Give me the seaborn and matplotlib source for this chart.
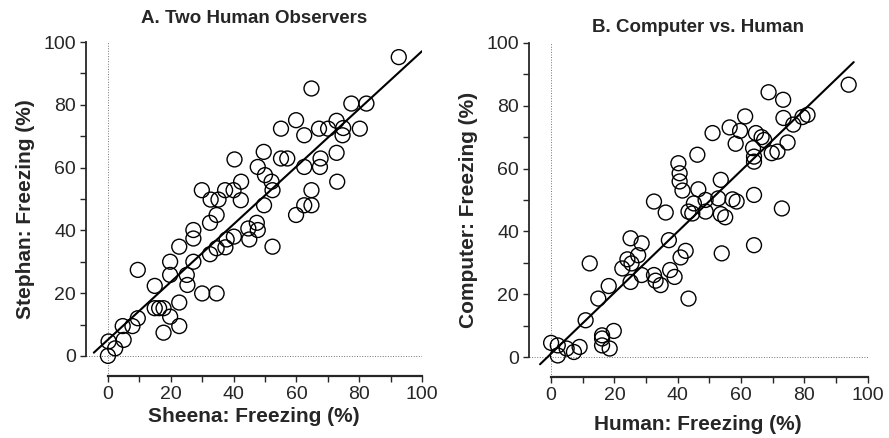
import numpy as np
import pandas as pd
import matplotlib
matplotlib.use('Agg')
import matplotlib.pyplot as plt
from matplotlib.ticker import MultipleLocator
import seaborn as sns

# Панель A: два наблюдателя
sheena = [92.6, 64.8, 77.5, 82.3, 59.9, 55.1, 72.8, 62.5, 67.2, 70.1, 74.9, 80.2, 74.7,
          72.8, 73.0, 55.1, 57.1, 67.7, 67.5, 62.5, 49.6, 47.7, 50.0, 52.1, 52.4, 64.8,
          62.5, 64.8, 59.9, 49.7, 47.4, 47.7, 44.7, 45.0, 52.4, 40.3, 42.4, 40.0, 37.3,
          42.3, 32.7, 35.2, 29.9, 34.6, 32.5, 40.1, 37.8, 37.4, 34.6, 32.5, 27.2, 27.2,
          27.2, 22.7, 19.8, 19.8, 25.1, 25.3, 30.0, 34.6, 22.7, 14.9, 14.9, 17.7, 19.8,
          22.7, 17.7, 9.5, 9.5, 7.8, 4.7, 5.0, 2.3, 0.2, 0.0, 16.3]
stephan = [95.2, 85.2, 80.4, 80.4, 75.1, 72.4, 74.9, 70.3, 72.4, 72.4, 72.6, 72.4, 70.3,
           64.7, 55.5, 62.9, 62.9, 62.9, 60.2, 60.2, 65.0, 60.2, 57.6, 55.5, 52.8, 52.8,
           48.0, 48.0, 44.9, 48.0, 42.4, 40.1, 40.6, 37.1, 34.8, 62.6, 55.5, 52.8, 52.8,
           49.6, 49.8, 49.8, 52.8, 44.9, 42.4, 38.0, 37.1, 34.6, 34.3, 32.4, 40.1, 37.4,
           30.0, 34.8, 30.0, 25.8, 25.8, 22.6, 19.9, 19.9, 17.0, 22.3, 15.2, 15.2, 12.5,
           9.5, 7.4, 27.4, 12.0, 9.5, 9.5, 5.1, 2.4, 4.6, 0.0, 15.2]

# Панель B: компьютер против человека
human = [94.0, 68.7, 73.3, 61.3, 81.0, 79.4, 73.4, 76.5, 56.4, 59.7, 51.0, 64.7, 66.5,
         67.3, 58.3, 74.7, 69.7, 71.5, 63.8, 64.1, 64.1, 46.2, 40.2, 40.6, 40.6, 41.5,
         46.5, 53.6, 52.8, 57.3, 58.6, 64.1, 72.9, 48.8, 45.1, 44.6, 43.4, 48.8, 53.6,
         55.0, 32.5, 36.2, 37.2, 42.5, 40.9, 37.6, 39.0, 32.5, 33.0, 34.6, 53.9, 64.1,
         43.4, 25.1, 28.6, 27.5, 24.1, 25.4, 22.5, 28.6, 25.1, 18.2, 14.9, 12.2, 10.9,
         19.8, 16.1, 16.1, 16.1, 18.5, 9.0, 7.2, 4.9, 2.1, 0.0, 2.1]
computer = [86.7, 84.3, 81.9, 76.6, 77.1, 76.4, 76.1, 74.0, 73.1, 72.0, 71.3, 71.3, 70.0,
            69.1, 67.9, 68.3, 64.9, 65.4, 66.5, 62.2, 63.8, 64.4, 61.7, 58.5, 55.9, 53.0,
            53.4, 56.4, 50.5, 50.2, 49.5, 51.6, 47.3, 50.0, 48.9, 45.7, 46.3, 46.3, 45.5,
            44.5, 49.5, 46.0, 37.2, 33.8, 31.7, 27.7, 25.5, 26.1, 24.3, 22.9, 33.0, 35.6,
            18.6, 37.8, 36.2, 32.4, 31.1, 29.8, 28.2, 26.1, 23.9, 22.6, 18.6, 29.8, 11.7,
            8.3, 6.9, 5.9, 3.7, 2.7, 3.2, 1.6, 2.7, 0.5, 4.5, 3.7]

dfa = pd.DataFrame({'x': sheena, 'y': stephan})
dfb = pd.DataFrame({'x': human, 'y': computer})

sns.set_style('ticks')
plt.rcParams['font.family'] = ['Liberation Sans', 'DejaVu Sans']

fig = plt.figure(figsize=(8.89, 4.38), dpi=100)
ax_a = fig.add_axes([0.0967, 0.1416, 0.378, 0.7624])
ax_b = fig.add_axes([0.595, 0.139, 0.381, 0.763])


def panel(ax, df, title, xlabel, ylabel, line_span, title_pad, xlabel_pad):
    # линия регрессии рисуется на промежутке line_span, потом ставим оси
    ax.set_xlim(*line_span)
    ax.axvline(0, color='0.45', lw=0.7, ls=':', zorder=0)
    ax.axhline(0, color='0.45', lw=0.7, ls=':', zorder=0)
    sns.regplot(data=df, x='x', y='y', ax=ax, ci=None, truncate=False, color='black',
                scatter_kws={'s': 115, 'facecolors': 'none', 'edgecolors': 'black',
                             'linewidths': 1.0, 'clip_on': False, 'alpha': 1},
                line_kws={'lw': 1.5, 'color': 'black'})
    ax.set_xlim(-7, 100)
    ax.set_ylim(-6.4, 100)
    ax.spines['left'].set_bounds(0, 100)
    ax.spines['bottom'].set_bounds(0, 100)
    ax.spines['left'].set_linewidth(1.3)
    ax.spines['bottom'].set_linewidth(1.6)
    sns.despine(ax=ax)
    ax.xaxis.set_major_locator(MultipleLocator(20))
    ax.yaxis.set_major_locator(MultipleLocator(20))
    ax.xaxis.set_minor_locator(MultipleLocator(10))
    ax.yaxis.set_minor_locator(MultipleLocator(10))
    ax.tick_params(which='both', direction='out', length=4, width=1, labelsize=14, pad=3)
    ax.set_title(title, fontsize=13.5, fontweight='bold', pad=title_pad)
    ax.set_xlabel(xlabel, fontsize=15, fontweight='bold', labelpad=xlabel_pad)
    ax.set_ylabel(ylabel, fontsize=15, fontweight='bold', labelpad=6)


panel(ax_a, dfa, 'A. Two Human Observers', 'Sheena: Freezing (%)', 'Stephan: Freezing (%)',
      (-4.5, 100), 14, 3)
panel(ax_b, dfb, 'B. Computer vs. Human', 'Human: Freezing (%)', 'Computer: Freezing (%)',
      (-3.5, 95.6), 8, 8)

plt.savefig('out.png', dpi=100)
